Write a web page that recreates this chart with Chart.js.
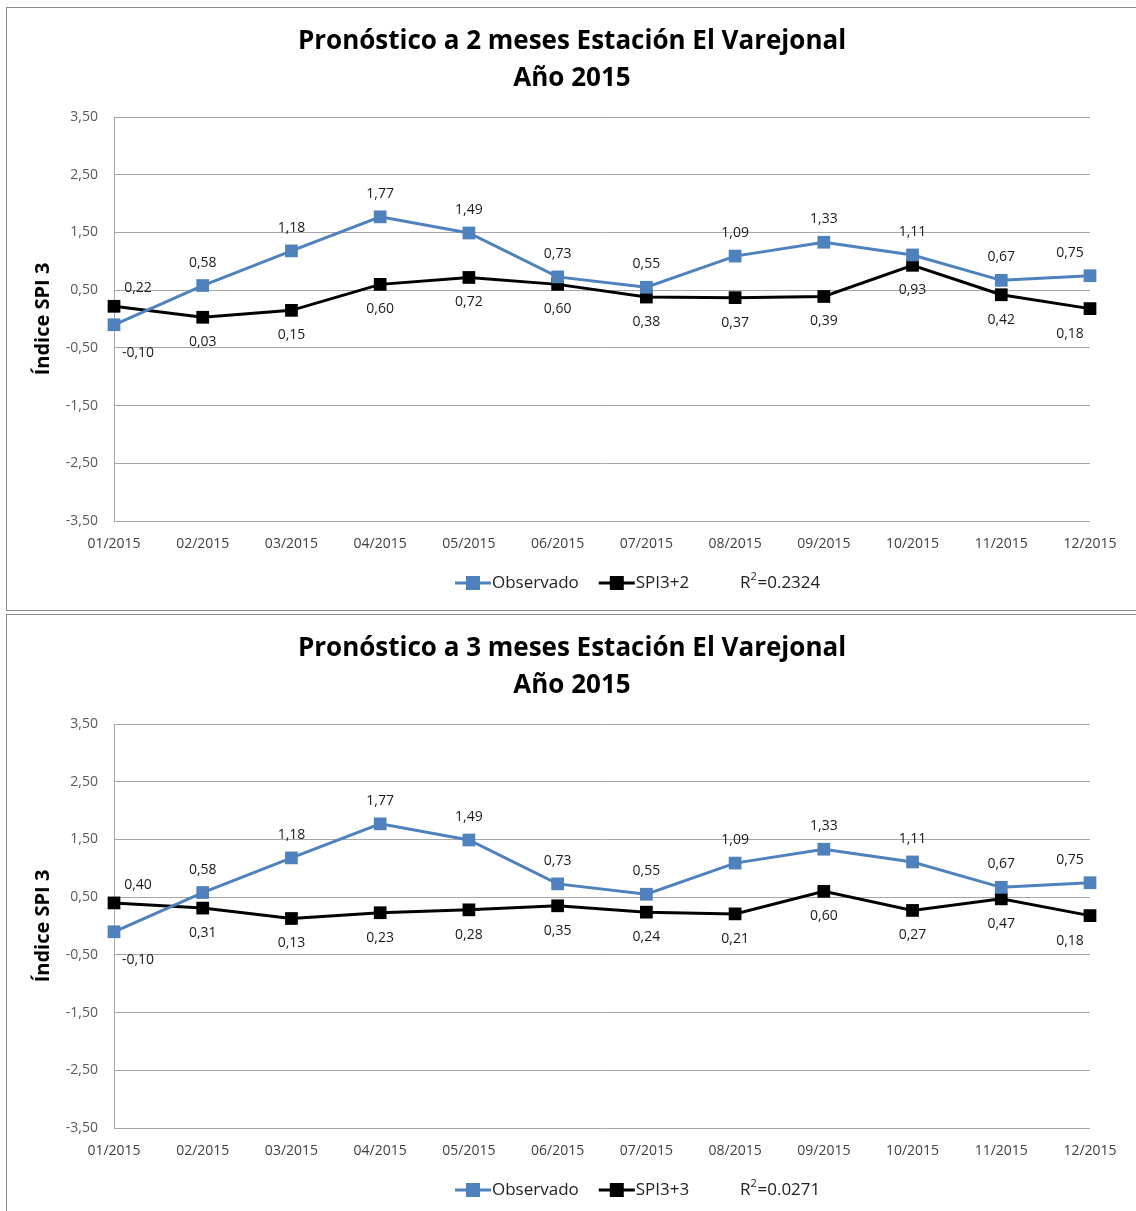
<!DOCTYPE html>
<html>
<head>
<meta charset="utf-8">
<script src="https://cdn.jsdelivr.net/npm/chart.js@4.4.1/dist/chart.umd.min.js"></script>
<style>
  body { margin: 0; background: #fff; }
  .box { position: absolute; left: 6px; width: 1138px; border: 1px solid #8c8c8c; background: #fff; }
  #b1 { top: 7px; height: 602px; }
  #b2 { top: 614px; height: 602px; }
  canvas { display: block; }
</style>
</head>
<body>
<div class="box" id="b1"><canvas id="c1" width="1138" height="602"></canvas></div>
<div class="box" id="b2"><canvas id="c2" width="1138" height="602"></canvas></div>
<script>
const meses = ['01/2015', '02/2015', '03/2015', '04/2015', '05/2015', '06/2015',
               '07/2015', '08/2015', '09/2015', '10/2015', '11/2015', '12/2015'];
const observado = [-0.10, 0.58, 1.18, 1.77, 1.49, 0.73, 0.55, 1.09, 1.33, 1.11, 0.67, 0.75];
const spi3mas2 = [0.22, 0.03, 0.15, 0.60, 0.72, 0.60, 0.38, 0.37, 0.39, 0.93, 0.42, 0.18];
const spi3mas3 = [0.40, 0.31, 0.13, 0.23, 0.28, 0.35, 0.24, 0.21, 0.60, 0.27, 0.47, 0.18];
const ticksY = [-3.5, -2.5, -1.5, -0.5, 0.5, 1.5, 2.5, 3.5];

const FONT = "'Open Sans', 'Liberation Sans', sans-serif";
const AZUL = '#4F81BD';

// formato con coma decimal
function fmt(v) {
    return v.toFixed(2).replace('.', ',');
}

// Titulo en dos lineas
const tituloPlugin = {
    id: 'titulo',
    afterDraw(chart, args, opts) {
        const ctx = chart.ctx;
        ctx.save();
        ctx.fillStyle = '#000';
        ctx.font = 'bold 26px ' + FONT;
        ctx.textAlign = 'center';
        ctx.textBaseline = 'middle';
        ctx.fillText(opts.lineas[0], 565, 34);
        ctx.fillText(opts.lineas[1], 565, 71);
        ctx.restore();
    }
};

// Etiquetas de datos
const etiquetasPlugin = {
    id: 'etiquetas',
    afterDatasetsDraw(chart) {
        const ctx = chart.ctx;
        ctx.save();
        ctx.font = '14px ' + FONT;
        ctx.fillStyle = '#1a1a1a';
        ctx.textAlign = 'center';
        ctx.textBaseline = 'middle';
        chart.data.datasets.forEach(function (ds, i) {
            const meta = chart.getDatasetMeta(i);
            meta.data.forEach(function (pt, j) {
                let dx = 0;
                let dy = ds.lado === 'arriba' ? -23 : 25;
                if (j === 0) {
                    dx = 24;
                    dy = ds.lado === 'arriba' ? 28 : -18;
                }
                if (j === meta.data.length - 1) dx = -20;
                ctx.fillText(fmt(ds.data[j]), pt.x + dx, pt.y + dy);
            });
        });
        ctx.restore();
    }
};

// Leyenda con R2
const leyendaPlugin = {
    id: 'leyenda',
    afterDraw(chart, args, opts) {
        const ctx = chart.ctx;
        const y = 575;
        ctx.save();
        ctx.font = '17px ' + FONT;
        ctx.textBaseline = 'middle';
        let x = 448;
        chart.data.datasets.forEach(function (ds) {
            ctx.strokeStyle = ds.borderColor;
            ctx.lineWidth = 3;
            ctx.beginPath();
            ctx.moveTo(x, y);
            ctx.lineTo(x + 36, y);
            ctx.stroke();
            ctx.fillStyle = ds.borderColor;
            ctx.fillRect(x + 11, y - 7, 14, 14);
            ctx.fillStyle = '#222';
            ctx.textAlign = 'left';
            ctx.fillText(ds.label, x + 37, y);
            x += 37 + ctx.measureText(ds.label).width + 20;
        });
        x = 733;
        ctx.fillStyle = '#222';
        ctx.fillText('R', x, y);
        const w = ctx.measureText('R').width;
        ctx.font = '11px ' + FONT;
        ctx.fillText('2', x + w, y - 6);
        ctx.font = '17px ' + FONT;
        ctx.fillText('=' + opts.r2, x + w + 7, y);
        ctx.restore();
    }
};

function crearGrafico(id, titulo, serie, nombreSerie, r2) {
    const ctx = document.getElementById(id).getContext('2d');
    return new Chart(ctx, {
        type: 'line',
        data: {
            labels: meses,
            datasets: [{
                label: 'Observado',
                data: observado,
                borderColor: AZUL,
                backgroundColor: AZUL,
                borderWidth: 3,
                pointStyle: 'rect',
                pointRadius: 9,
                pointBorderWidth: 0,
                tension: 0,
                lado: 'arriba'
            }, {
                label: nombreSerie,
                data: serie,
                borderColor: '#000000',
                backgroundColor: '#000000',
                borderWidth: 3,
                pointStyle: 'rect',
                pointRadius: 9,
                pointBorderWidth: 0,
                tension: 0,
                lado: 'abajo'
            }]
        },
        options: {
            responsive: false,
            animation: false,
            layout: { padding: { top: 109, left: 0, right: 55, bottom: 49 } },
            plugins: {
                legend: { display: false },
                tooltip: { enabled: false },
                titulo: { lineas: titulo },
                leyenda: { r2: r2 }
            },
            scales: {
                x: {
                    offset: false,
                    grid: { display: false },
                    border: { display: false },
                    ticks: {
                        autoSkip: false, maxRotation: 0, padding: 7,
                        color: '#404040', font: { family: FONT, size: 14 }
                    },
                    afterFit: function (scale) { scale.height = 40; }
                },
                y: {
                    min: -3.5,
                    max: 3.5,
                    afterBuildTicks: function (scale) {
                        scale.ticks = ticksY.map(function (v) { return { value: v }; });
                    },
                    grid: { color: '#a6a6a6', drawTicks: false },
                    border: { display: true, color: '#a6a6a6' },
                    ticks: {
                        padding: 16, color: '#595959',
                        font: { family: FONT, size: 14 },
                        callback: function (v) { return fmt(v); }
                    },
                    title: {
                        display: true,
                        text: 'Índice SPI 3',
                        color: '#000',
                        font: { family: FONT, size: 20, weight: 'bold' },
                        padding: { top: 24, bottom: 0 }
                    },
                    afterFit: function (scale) { scale.width = 107; }
                }
            }
        },
        plugins: [tituloPlugin, etiquetasPlugin, leyendaPlugin]
    });
}

crearGrafico('c1', ['Pronóstico a 2 meses Estación El Varejonal', 'Año 2015'], spi3mas2, 'SPI3+2', '0.2324');
crearGrafico('c2', ['Pronóstico a 3 meses Estación El Varejonal', 'Año 2015'], spi3mas3, 'SPI3+3', '0.0271');
</script>
</body>
</html>
